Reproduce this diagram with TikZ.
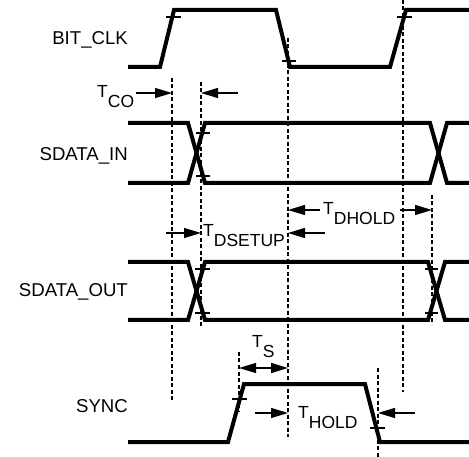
\documentclass[tikz,border=0pt]{standalone}
\usepackage{fontspec}
\setmainfont{Liberation Sans}
\usetikzlibrary{arrows.meta}

\newcommand{\tsub}[1]{T\raisebox{-10pt}{#1}}

\begin{document}
\begin{tikzpicture}[x=1pt,y=-1pt]
\tikzstyle{sig}=[line width=4pt]
\tikzstyle{guide}=[line width=1.4pt,dash pattern=on 4pt off 2.5pt]
\tikzstyle{tick}=[line width=1.4pt]
\tikzstyle{dim}=[line width=1.3pt,-{Triangle[length=17pt,width=10pt]}]
\tikzstyle{dimboth}=[line width=1.3pt,{Triangle[length=17pt,width=10pt]}-{Triangle[length=17pt,width=10pt]}]
\tikzstyle{every node}=[font=\fontsize{17.5}{20}\selectfont,inner sep=0pt]
\tikzstyle{signame}=[anchor=base east,font=\fontsize{18.6}{22}\selectfont]
\useasboundingbox (0,0) rectangle (469,457);

% signal names
\node[signame] (nclk) at (128,45) {BIT\_CLK};
\node[signame] (nin) at (128,161) {SDATA\_IN};
\node[signame] (nout) at (128,297) {SDATA\_OUT};
\node[signame] (nsync) at (128,412) {SYNC};

% waveforms
\draw[sig] (128,67) -- (160,67) -- (174,10) -- (276,10) -- (290,67) -- (390,67) -- (406,10) -- (469,10);
\draw[sig] (128,123) -- (188,123) -- (205,183) -- (430,183) -- (447,123) -- (469,123);
\draw[sig] (128,183) -- (188,183) -- (205,123) -- (430,123) -- (447,183) -- (469,183);
\draw[sig] (128,262) -- (188,262) -- (205,320) -- (428,320) -- (445,262) -- (469,262);
\draw[sig] (128,320) -- (188,320) -- (205,262) -- (428,262) -- (445,320) -- (469,320);
\draw[sig] (128,442) -- (228,442) -- (244,384) -- (365,384) -- (380,442) -- (469,442);

% dashed guides
\draw[guide] (172,78) -- (172,402);
\draw[guide] (201,82) -- (201,327);
\draw[guide] (288,38) -- (288,437);
\draw[guide] (403,0) -- (403,392);
\draw[guide] (432,195) -- (432,325);
\draw[guide] (239,352) -- (239,412);
\draw[guide] (378,368) -- (378,457);

% level ticks
\draw[tick] (166,17) -- (181,17);
\draw[tick] (282,61) -- (296,61);
\draw[tick] (397,17) -- (412,17);
\draw[tick] (196,133) -- (210,133);
\draw[tick] (196,176) -- (210,176);
\draw[tick] (195,269) -- (210,269);
\draw[tick] (195,313) -- (210,313);
\draw[tick] (425,269) -- (438,269);
\draw[tick] (425,313) -- (438,313);
\draw[tick] (232,399) -- (247,399);
\draw[tick] (370,428) -- (385,428);

% timing arrows
\draw[dim] (136,93) -- (172,93);
\draw[dim] (238,93) -- (201,93);
\draw[dim] (166,233) -- (201,233);
\draw[dim] (325,233) -- (288,233);
\draw[dim] (320,210) -- (288,210);
\draw[dim] (400,210) -- (432,210);
\draw[dimboth] (239,368) -- (288,368);
\draw[dim] (255,413) -- (288,413);
\draw[dim] (415,413) -- (378,413);

% timing labels
\node[anchor=base west] (tco) at (97,98) {\tsub{CO}};
\node[anchor=base west] (tsetup) at (203,237) {\tsub{DSETUP}};
\node[anchor=base west] (tdhold) at (323,215) {\tsub{DHOLD}};
\node[anchor=base west] (ts) at (252,348) {\tsub{S}};
\node[anchor=base west] (thold) at (298,418) {\tsub{HOLD}};
\end{tikzpicture}
\end{document}
